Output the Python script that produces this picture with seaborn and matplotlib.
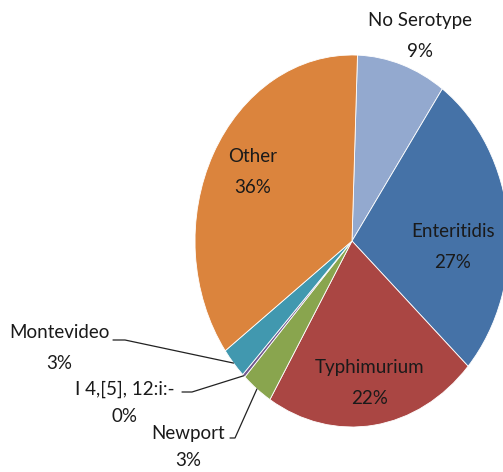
import matplotlib
matplotlib.use("Agg")
import matplotlib.pyplot as plt
import matplotlib.lines as mlines
import numpy as np
import seaborn as sns

# ---- data ----
categories = ["No Serotype", "Enteritidis", "Typhimurium", "Newport",
              "I 4,[5], 12:i:-", "Montevideo", "Other"]
values = [9.2, 27.0, 22.0, 3.2, 0.3, 2.7, 35.6]
colors = ["#93A9CF", "#4572A7", "#AA4643", "#89A54E", "#71588F", "#4198AF", "#DB843D"]

# ---- layout (pixel positions of label centres) ----
label_pos = {
    "No Serotype": (420, 36),
    "Enteritidis": (453, 247),
    "Typhimurium": (370, 383),
    "Newport": (188, 447),
    "I 4,[5], 12:i:-": (125, 403),
    "Montevideo": (59, 348),
    "Other": (253, 172),
}
# leader line: (start of horizontal tick x, elbow x, y) in pixels
leaders = {
    "Montevideo": (113, 125, 340),
    "I 4,[5], 12:i:-": (182, 192, 392),
    "Newport": (230, 235, 438),
}

sns.set_style("white")
plt.rcParams['font.family'] = ['Lato', 'DejaVu Sans']

W, H = 503, 472
fig = plt.figure(figsize=(W / 100, H / 100), dpi=100)
fig.patch.set_facecolor("white")
cx, cy, rx, ry = 352, 241, 157, 186
ax = fig.add_axes([(cx - rx) / W, (H - cy - ry) / H, 2 * rx / W, 2 * ry / H])
wedges, _ = ax.pie(values, colors=colors, startangle=88, counterclock=False,
                   wedgeprops=dict(edgecolor="white", linewidth=0.6))
for w in wedges:
    w.set_clip_on(False)
ax.set_aspect("auto")
ax.set_xlim(-1, 1)
ax.set_ylim(-1, 1)
ax.axis("off")

total = sum(values)
txtcol = "#1a1a1a"
for name, v, w in zip(categories, values, wedges):
    px, py = label_pos[name]
    ax_text = f"{name}\n{round(v / total * 100):.0f}%"
    ls = 1.75 if name in ("I 4,[5], 12:i:-", "Newport") else 1.95
    fig.text(px / W, 1 - py / H, ax_text, ha="center", va="center",
             fontsize=13.5, color=txtcol, linespacing=ls)
    if name in leaders:
        x0, x1, yl = leaders[name]
        mid = np.deg2rad((w.theta1 + w.theta2) / 2)
        pt = ax.transData.transform((np.cos(mid), np.sin(mid)))
        pt = fig.transFigure.inverted().transform(pt)
        xs = [x0 / W, x1 / W, pt[0]]
        ys = [1 - yl / H, 1 - yl / H, pt[1]]
        fig.add_artist(mlines.Line2D(xs, ys, color="#222222", lw=0.9,
                                     transform=fig.transFigure))

fig.savefig("out.png", dpi=100, facecolor="white")
